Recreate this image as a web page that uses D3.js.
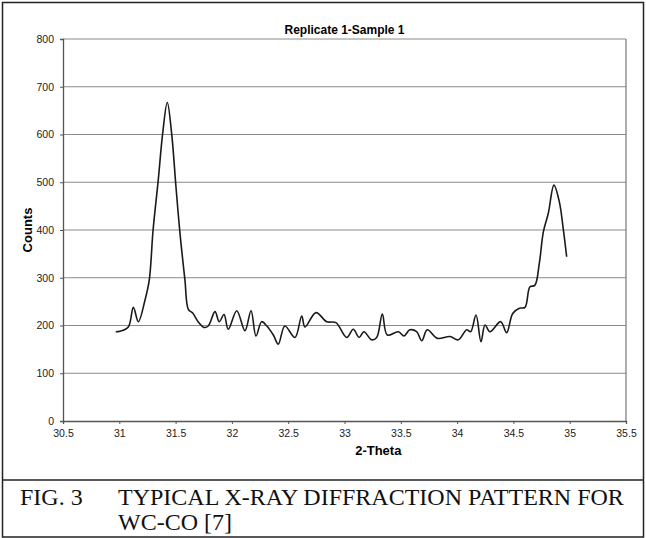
<!DOCTYPE html>
<html>
<head>
<meta charset="utf-8">
<script src="https://cdn.jsdelivr.net/npm/d3@7"></script>
<style>
  body { margin: 0; background: #fff; }
  svg { display: block; }
</style>
</head>
<body>
<svg></svg>
<script>
// values
let twoTheta = [30.968, 31.006, 31.08, 31.125, 31.169, 31.228, 31.266, 31.30, 31.346, 31.385,
  31.426, 31.465, 31.503, 31.539, 31.583, 31.613, 31.652, 31.70, 31.752, 31.79,
  31.85, 31.888, 31.93, 31.968, 32.043, 32.116, 32.17, 32.214, 32.264, 32.31,
  32.368, 32.412, 32.47, 32.56, 32.62, 32.649, 32.747, 32.842, 32.924, 33.02,
  33.078, 33.13, 33.173, 33.24, 33.286, 33.336, 33.38, 33.478, 33.528, 33.58,
  33.641, 33.686, 33.735, 33.824, 33.937, 34.01, 34.085, 34.12, 34.168, 34.212,
  34.248, 34.292, 34.387, 34.44, 34.494, 34.553, 34.603, 34.647, 34.69, 34.73,
  34.766, 34.81, 34.86, 34.908, 34.944, 34.973]
let counts = [187, 188, 197, 238, 208, 253, 295, 400, 505, 602,
  667, 602, 491, 393, 295, 234, 226, 208, 196, 199,
  229, 208, 223, 192, 231, 189, 231, 178, 208, 199,
  180, 161, 199, 175, 220, 197, 227, 208, 206, 175,
  192, 175, 187, 170, 175, 224, 180, 187, 178, 191,
  187, 168, 191, 173, 177, 170, 191, 187, 222, 166,
  201, 187, 208, 185, 225, 236, 238, 281, 284, 330,
  396, 435, 494, 459, 400, 344]

let xTicks = [30.5, 31, 31.5, 32, 32.5, 33, 33.5, 34, 34.5, 35, 35.5]
let yTicks = [0, 100, 200, 300, 400, 500, 600, 700, 800]

let chartTitle = 'Replicate 1-Sample 1'
let xTitle = '2-Theta'
let yTitle = 'Counts'
let captionNum = 'FIG. 3'
let captionLines = ['TYPICAL X-RAY DIFFRACTION PATTERN FOR', 'WC-CO [7]']

let width = 646
let height = 538
let plotLeft = 63
let plotRight = 626
let plotTop = 39
let plotBottom = 421

let svg = d3.select('svg')
    .attr('width', width)
    .attr('height', height)

let xScale = d3.scaleLinear().domain([30.5, 35.5]).range([plotLeft, plotRight])
let yScale = d3.scaleLinear().domain([0, 800]).range([plotBottom, plotTop])

let drawFrame = () => {
    svg.append('rect')
        .attr('x', 2.5).attr('y', 2.5)
        .attr('width', width - 5).attr('height', height - 3.5)
        .attr('fill', 'none')
        .attr('stroke', '#222')
        .attr('stroke-width', 1.5)
    svg.append('line')
        .attr('x1', 2.5).attr('x2', width - 2.5)
        .attr('y1', 480).attr('y2', 480)
        .attr('stroke', '#222')
        .attr('stroke-width', 1.5)
}

let drawGrid = () => {
    svg.append('g')
        .selectAll('line')
        .data(yTicks.filter(d => d > 0))
        .enter()
        .append('line')
        .attr('x1', plotLeft).attr('x2', plotRight)
        .attr('y1', d => yScale(d)).attr('y2', d => yScale(d))
        .attr('stroke', '#8a8a8a')
        .attr('stroke-width', 1)
    // right edge of plot area
    svg.append('line')
        .attr('x1', plotRight).attr('x2', plotRight)
        .attr('y1', plotTop).attr('y2', plotBottom)
        .attr('stroke', '#777')
        .attr('stroke-width', 1.2)
}

let makeAxes = () => {
    let xAxis = d3.axisBottom(xScale).tickValues(xTicks).tickFormat(d => String(d)).tickSize(3).tickPadding(6)
    let gx = svg.append('g')
        .attr('transform', 'translate(0,' + plotBottom + ')')
        .call(xAxis)
    let yAxis = d3.axisLeft(yScale).tickValues(yTicks).tickFormat(d => String(d)).tickSize(3).tickPadding(6)
    let gy = svg.append('g')
        .attr('transform', 'translate(' + plotLeft + ',0)')
        .call(yAxis)
    ;[gx, gy].forEach(g => {
        g.select('.domain').attr('stroke', '#555').attr('stroke-width', 1.3)
        g.selectAll('.tick line').attr('stroke', '#555')
        g.selectAll('text')
            .attr('fill', '#222')
            .style('font-family', '"Liberation Sans", Arial, sans-serif')
            .style('font-size', '10.5px')
    })
}

let makeLine = () => {
    let pts = twoTheta.map((t, i) => [t, counts[i]])
    let line = d3.line()
        .x(d => xScale(d[0]))
        .y(d => yScale(d[1]))
        .curve(d3.curveCatmullRom.alpha(0.5))
    svg.append('path')
        .datum(pts)
        .attr('d', line)
        .attr('fill', 'none')
        .attr('stroke', '#1a1a1a')
        .attr('stroke-width', 1.6)
}

let makeTexts = () => {
    svg.append('text')
        .attr('x', (plotLeft + plotRight) / 2).attr('y', 31)
        .attr('text-anchor', 'middle')
        .attr('dominant-baseline', 'middle')
        .style('font-family', '"Liberation Sans", Arial, sans-serif')
        .style('font-weight', 'bold')
        .style('font-size', '12px')
        .text(chartTitle)
    svg.append('text')
        .attr('x', xScale(33.3)).attr('y', 452)
        .attr('text-anchor', 'middle')
        .attr('dominant-baseline', 'middle')
        .style('font-family', '"Liberation Sans", Arial, sans-serif')
        .style('font-weight', 'bold')
        .style('font-size', '13px')
        .text(xTitle)
    svg.append('text')
        .attr('transform', 'translate(29,' + yScale(400) + ') rotate(-90)')
        .attr('text-anchor', 'middle')
        .attr('dominant-baseline', 'middle')
        .style('font-family', '"Liberation Sans", Arial, sans-serif')
        .style('font-weight', 'bold')
        .style('font-size', '13px')
        .text(yTitle)

    let cap = svg.append('g')
        .style('font-family', '"Liberation Serif", "Times New Roman", serif')
        .style('font-size', '24px')
        .attr('fill', '#111')
    cap.append('text').attr('x', 20).attr('y', 505).text(captionNum)
    cap.selectAll('.capline')
        .data(captionLines)
        .enter()
        .append('text')
        .attr('class', 'capline')
        .attr('x', 118)
        .attr('y', (d, i) => 505 + i * 25)
        .text(d => d)
}

drawFrame()
drawGrid()
makeAxes()
makeLine()
makeTexts()
</script>
</body>
</html>
